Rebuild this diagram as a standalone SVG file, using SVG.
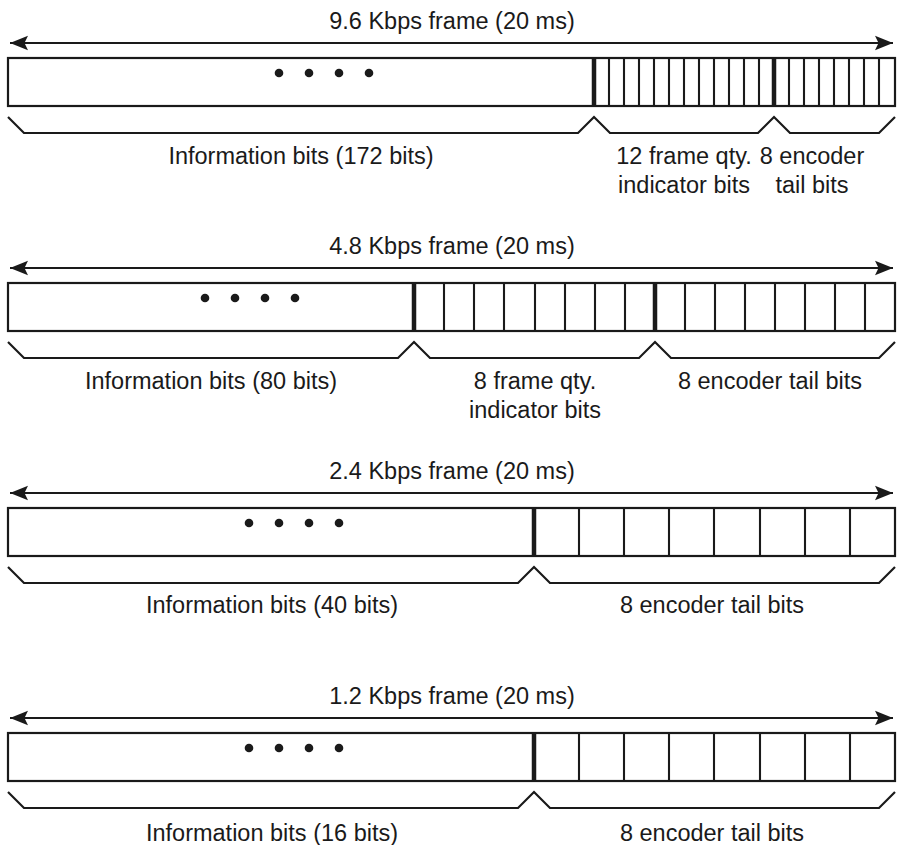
<svg xmlns="http://www.w3.org/2000/svg" width="898" height="845" viewBox="0 0 898 845">
<defs>
<marker id="ah" markerWidth="20" markerHeight="16" refX="18" refY="8" orient="auto-start-reverse" markerUnits="userSpaceOnUse">
<path d="M18,8 L0,0.8 L3.5,8 L0,15.2 Z" fill="#1a1a1a"/>
</marker>
<style>
.t{font-family:"Liberation Sans",Arial,Helvetica,sans-serif;font-size:23.5px;fill:#1a1a1a;text-anchor:middle}
.box{fill:#fff;stroke:#1a1a1a;stroke-width:2.2}
.cell{stroke:#1a1a1a;stroke-width:2.1}
.sep{stroke:#1a1a1a;stroke-width:4.5}
.arr{stroke:#1a1a1a;stroke-width:2.2;fill:none}
.br{stroke:#1a1a1a;stroke-width:2.2;fill:none;stroke-linejoin:miter}
.dot{fill:#1a1a1a}
</style>
</defs>

<g id="frame-9-6">
<text class="t" x="452" y="29">9.6 Kbps frame (20 ms)</text>
<rect class="box" x="8" y="58" width="887" height="48"/>
<circle class="dot" cx="279" cy="73" r="4.3"/><circle class="dot" cx="309" cy="73" r="4.3"/><circle class="dot" cx="339" cy="73" r="4.3"/><circle class="dot" cx="369" cy="73" r="4.3"/>
<path class="cell" d="M609,58V106M624,58V106M639,58V106M654,58V106M669,58V106M684,58V106M699,58V106M714,58V106M729,58V106M744,58V106M759,58V106M789,58V106M804,58V106M819,58V106M834,58V106M849,58V106M864,58V106M879,58V106"/>
<path class="sep" d="M594,57V107M774,57V107"/>
<text class="t" x="301" y="164">Information bits (172 bits)</text>
<text class="t" x="684" y="164">12 frame qty.</text>
<text class="t" x="684" y="193">indicator bits</text>
<text class="t" x="812" y="164">8 encoder</text>
<text class="t" x="812" y="193">tail bits</text>
</g>

<g id="frame-4-8">
<text class="t" x="452" y="254">4.8 Kbps frame (20 ms)</text>
<rect class="box" x="8" y="283" width="887" height="48"/>
<circle class="dot" cx="205" cy="298" r="4.3"/><circle class="dot" cx="235" cy="298" r="4.3"/><circle class="dot" cx="265" cy="298" r="4.3"/><circle class="dot" cx="295" cy="298" r="4.3"/>
<path class="cell" d="M444,283V331M474,283V331M504,283V331M535,283V331M565,283V331M595,283V331M625,283V331M685,283V331M715,283V331M745,283V331M775,283V331M805,283V331M835,283V331M865,283V331"/>
<path class="sep" d="M414,282V332M655,282V332"/>
<text class="t" x="211" y="389">Information bits (80 bits)</text>
<text class="t" x="535" y="389">8 frame qty.</text>
<text class="t" x="535" y="418">indicator bits</text>
<text class="t" x="770" y="389">8 encoder tail bits</text>
</g>

<g id="frame-2-4">
<text class="t" x="452" y="479">2.4 Kbps frame (20 ms)</text>
<rect class="box" x="8" y="508" width="887" height="48"/>
<circle class="dot" cx="249" cy="523" r="4.3"/><circle class="dot" cx="279" cy="523" r="4.3"/><circle class="dot" cx="309" cy="523" r="4.3"/><circle class="dot" cx="339" cy="523" r="4.3"/>
<path class="cell" d="M579,508V556M624,508V556M669,508V556M714,508V556M760,508V556M805,508V556M850,508V556"/>
<path class="sep" d="M534,507V557"/>
<text class="t" x="272" y="613">Information bits (40 bits)</text>
<text class="t" x="712" y="613">8 encoder tail bits</text>
</g>

<g id="frame-1-2">
<text class="t" x="452" y="704">1.2 Kbps frame (20 ms)</text>
<rect class="box" x="8" y="733" width="887" height="48"/>
<circle class="dot" cx="249" cy="748" r="4.3"/><circle class="dot" cx="279" cy="748" r="4.3"/><circle class="dot" cx="309" cy="748" r="4.3"/><circle class="dot" cx="339" cy="748" r="4.3"/>
<path class="cell" d="M579,733V781M624,733V781M669,733V781M714,733V781M760,733V781M805,733V781M850,733V781"/>
<path class="sep" d="M534,732V782"/>
<text class="t" x="272" y="841">Information bits (16 bits)</text>
<text class="t" x="712" y="841">8 encoder tail bits</text>
</g>

<g id="connectors">
<line class="arr" x1="10" y1="43" x2="893" y2="43" marker-start="url(#ah)" marker-end="url(#ah)"/>
<line class="arr" x1="10" y1="268" x2="893" y2="268" marker-start="url(#ah)" marker-end="url(#ah)"/>
<line class="arr" x1="10" y1="493" x2="893" y2="493" marker-start="url(#ah)" marker-end="url(#ah)"/>
<line class="arr" x1="10" y1="718" x2="893" y2="718" marker-start="url(#ah)" marker-end="url(#ah)"/>
<path class="br" d="M8,117L24,133H578L594,117L610,133H758L774,117L790,133H879L895,117"/>
<path class="br" d="M8,342L24,358H398L414,342L430,358H639L655,342L671,358H879L895,342"/>
<path class="br" d="M8,567L24,583H518L534,567L550,583H879L895,567"/>
<path class="br" d="M8,792L24,808H518L534,792L550,808H879L895,792"/>
</g>
</svg>
